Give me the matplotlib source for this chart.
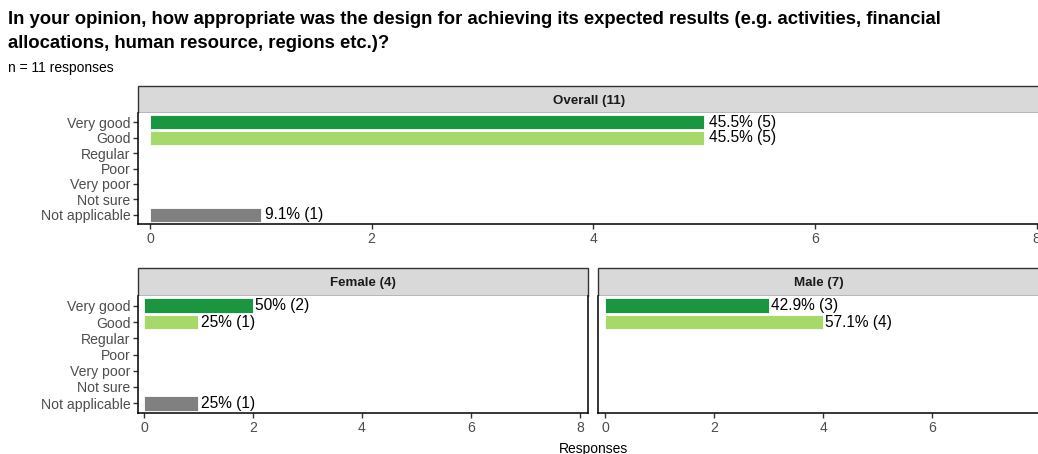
import matplotlib
matplotlib.use("Agg")
import matplotlib.pyplot as plt
from matplotlib.patches import Rectangle

plt.rcParams["font.family"] = ["Liberation Sans", "DejaVu Sans"]

categories = ["Very good", "Good", "Regular", "Poor", "Very poor", "Not sure", "Not applicable"]
overall_counts = [5, 5, 0, 0, 0, 0, 1]
female_counts = [2, 1, 0, 0, 0, 0, 1]
male_counts = [3, 4, 0, 0, 0, 0, 0]
colors = ["#1a9641", "#a6d96a", "#fee08b", "#fdae61", "#d7191c", "#bdbdbd", "#808080"]

W, H = 1038, 454
fig = plt.figure(figsize=(W / 100, H / 100), dpi=100)


def px_axes(left, top, right, bottom):
    return fig.add_axes([left / W, 1 - bottom / H, (right - left) / W, (bottom - top) / H])


def strip(left, top, right, bottom, text):
    ax = px_axes(left, top, right, bottom)
    ax.add_patch(Rectangle((0, 0), 1, 1, transform=ax.transAxes, facecolor="#d9d9d9",
                           edgecolor="#333333", linewidth=1.0, clip_on=False))
    ax.text(0.5, 0.45, text, ha="center", va="center", fontsize=9.6, fontweight="bold",
            color="#1a1a1a", transform=ax.transAxes)
    ax.set_axis_off()


def panel(ax, counts, xlim, ticks=(0, 2, 4, 6, 8), right_spine=False):
    n = sum(counts)
    y = list(range(len(categories)))
    ax.barh(y, counts, height=0.9, color=colors, edgecolor="white", linewidth=0.6)
    for yi, c in zip(y, counts):
        if c > 0:
            pct = round(100 * c / n, 1)
            ax.text(c + 0.04, yi, f"{pct:g}% ({c})", va="center", ha="left",
                    fontsize=11.2, color="black")
    ax.set_ylim(len(categories) - 0.4, -0.6)
    ax.set_xlim(*xlim)
    ax.set_yticks(y)
    ax.set_yticklabels(categories)
    ax.set_xticks(list(ticks))
    ax.spines["top"].set_visible(False)
    ax.spines["right"].set_visible(right_spine)
    for s in ["left", "bottom", "right"]:
        ax.spines[s].set_linewidth(1.1)
        ax.spines[s].set_color("black")
    ax.tick_params(axis="both", length=3.5, width=1.0, color="#333333",
                   labelcolor="#4d4d4d", labelsize=10.1, pad=2)
    ax.set_facecolor("white")


fig.text(8 / W, 1 - 20 / H,
         "In your opinion, how appropriate was the design for achieving its expected results (e.g. activities, financial",
         fontsize=13.3, fontweight="bold", va="center", ha="left")
fig.text(8 / W, 1 - 43 / H, "allocations, human resource, regions etc.)?",
         fontsize=13.3, fontweight="bold", va="center", ha="left")
fig.text(8 / W, 1 - 68 / H, "n = 11 responses", fontsize=10, va="center", ha="left")

# top panel
strip(138, 86, 1040, 113, "Overall (11)")
ax_top = px_axes(138, 113, 1040, 224)
panel(ax_top, overall_counts, (-0.108, 8.03))

# bottom panels
strip(138, 268, 588, 296, "Female (4)")
ax_f = px_axes(138, 296, 588, 413)
panel(ax_f, female_counts, (-0.11, 8.15), right_spine=True)

strip(598, 268, 1040, 296, "Male (7)")
ax_m = px_axes(598, 296, 1040, 413)
panel(ax_m, male_counts, (-0.128, 7.98), ticks=(0, 2, 4, 6))
ax_m.set_yticklabels([])
ax_m.tick_params(axis="y", length=0)

fig.text(593 / W, 1 - 449 / H, "Responses", fontsize=10, ha="center", va="center")

fig.savefig("out.png", dpi=100)
